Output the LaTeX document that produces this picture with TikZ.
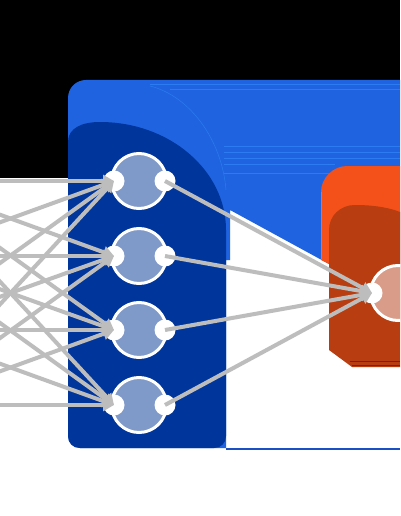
\documentclass[tikz,border=0pt]{standalone}
\usetikzlibrary{arrows.meta}
\definecolor{lblue}{HTML}{1F63E0}
\definecolor{stripe}{HTML}{2A7CF0}
\definecolor{dblue}{HTML}{00359B}
\definecolor{edgeblue}{HTML}{1A50C4}
\definecolor{nfill}{HTML}{7F99C9}
\definecolor{lorange}{HTML}{F4511A}
\definecolor{brorange}{HTML}{FF6A22}
\definecolor{dorange}{HTML}{B83D10}
\definecolor{dred}{HTML}{8A1A00}
\definecolor{ofill}{HTML}{D99C88}
\definecolor{cgray}{HTML}{BDBDBD}
\tikzset{
  neuron/.style={circle, minimum size=55pt, inner sep=0pt, draw=white, line width=3pt},
  hid/.style={neuron, fill=nfill},
  outn/.style={neuron, fill=ofill},
  port/.style={circle, minimum size=21pt, inner sep=0pt, fill=white},
  conn/.style={draw=cgray, line width=4pt, -{Triangle[length=11pt,width=12pt]}},
  stripeline/.style={stripe, line width=0.8pt}
}
\begin{document}
\begin{tikzpicture}[x=1pt,y=-1pt]
\useasboundingbox (0,0) rectangle (400,516);
\clip (0,0) rectangle (400,516);
% background
\fill[white] (0,0) rectangle (400,516);
\fill[black] (0,0) rectangle (400,80);
\fill[black] (0,80) rectangle (90,178);
% light blue region
\fill[lblue] (68,98) .. controls (68,88) and (76,80) .. (86,80) -- (400,80) -- (400,264) -- (329,264) -- (230,210) -- (230,260) -- (226,260) -- (226,448) -- (80,448) .. controls (73,448) and (68,443) .. (68,436) -- cycle;
% artifact stripes
\draw[stripeline, line width=0.5pt] (150,86) .. controls (190,96) and (222,140) .. (226,190);
\draw[stripeline] (150,84) -- (400,84);
\draw[stripeline] (170,89) -- (400,89);
\draw[stripeline] (224,146) -- (400,146);
\draw[stripeline] (224,152) -- (400,152);
\draw[stripeline] (224,158) -- (400,158);
\draw[stripeline] (224,164) -- (335,164);
\draw[stripeline] (224,173) -- (330,173);
% dark blue box
\fill[dblue] (68,142) .. controls (68,128) and (82,122) .. (100,122) .. controls (169.6,122) and (226,170.4) .. (226,230) -- (226,436) .. controls (226,443) and (221,448) .. (214,448) -- (80,448) .. controls (73,448) and (68,443) .. (68,436) -- cycle;
\draw[edgeblue, line width=2pt] (226,449) -- (400,449);
% orange box
\fill[lorange] (321,192) .. controls (321,178) and (333,166) .. (347,166) -- (400,166) -- (400,264) -- (329,264) -- (321,260) -- cycle;
\draw[brorange, line width=1.2pt] (321.6,192) -- (321.6,259);
\fill[dorange] (329,230) .. controls (329,216) and (340,205) .. (355,205) .. controls (375,205) and (390,208) .. (400,212) -- (400,367) -- (352,367) -- (329,350) -- cycle;
\draw[dred, line width=1pt] (350,361.5) -- (400,361.5);
\draw[dred, line width=1pt] (352,365) -- (400,365);
% input layer (outside the picture)
\node[hid] (x1) at (-119,181) {};
\node[hid] (x2) at (-119,256) {};
\node[hid] (x3) at (-119,330) {};
\node[hid] (x4) at (-119,405) {};
\node[port] (xo1) at (-93,181) {};
\node[port] (xo2) at (-93,256) {};
\node[port] (xo3) at (-93,330) {};
\node[port] (xo4) at (-93,405) {};
% hidden layer
\node[hid] (h1) at (139,181) {};
\node[hid] (h2) at (139,256) {};
\node[hid] (h3) at (139,330) {};
\node[hid] (h4) at (139,405) {};
\node[port] (hi1) at (114,181) {};
\node[port] (hi2) at (114,256) {};
\node[port] (hi3) at (114,330) {};
\node[port] (hi4) at (114,405) {};
\node[port] (ho1) at (165,181) {};
\node[port] (ho2) at (165,256) {};
\node[port] (ho3) at (165,330) {};
\node[port] (ho4) at (165,405) {};
% output layer
\node[outn] (y1) at (398,293) {};
\node[port] (yi1) at (372,293) {};
% connections input -> hidden
\foreach \i in {1,2,3,4}{
  \foreach \j in {1,2,3,4}{
    \draw[conn] (xo\i.center) -- (hi\j.center);
  }
}
% connections hidden -> output
\foreach \j in {1,2,3,4}{
  \draw[conn] (ho\j.center) -- (yi1.center);
}
\end{tikzpicture}
\end{document}
